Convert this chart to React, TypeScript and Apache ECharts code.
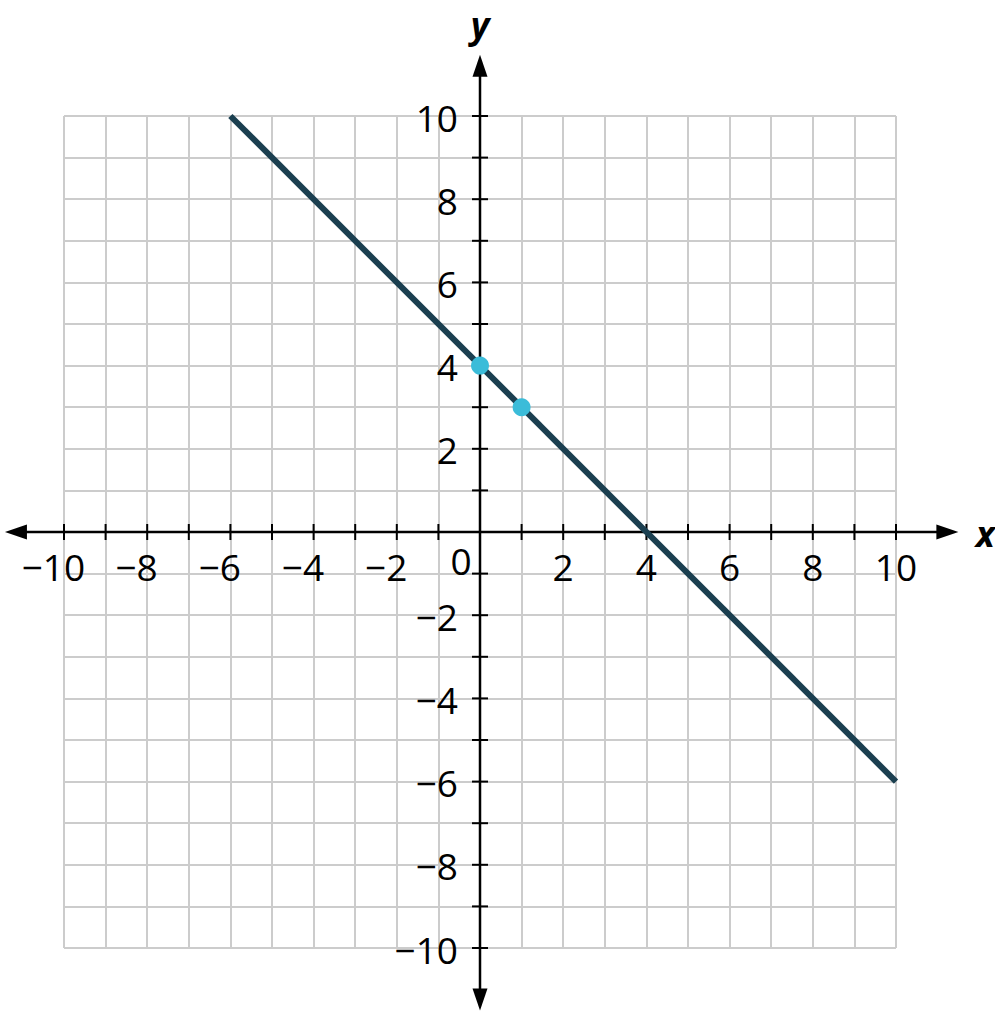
import { useEffect, useRef } from "react";
import * as echarts from "echarts";

// axis ranges and ticks
const xRange = [-10, 10];
const yRange = [-10, 10];
const tickStep = 1;
const labelStep = 2;
// how far the arrowed axes run past the grid (in units)
const xAxisExtent = [-11.42, 11.5];
const yAxisExtent = [-11.5, 11.47];

// the line y = -x + 4, drawn between its two ends
const linePoints = [
  [-6, 10],
  [10, -6],
];
// highlighted points on the line
const markedPoints = [
  [0, 4],
  [1, 3],
];

const FONT = "'Open Sans', 'DejaVu Sans', sans-serif";
const LABEL_SIZE = 37;

const fmt = (v: number) => (v < 0 ? "\u2212" + Math.abs(v) : String(v));

export default function App() {
  const chartRef = useRef<HTMLDivElement>(null);

  useEffect(() => {
    if (!chartRef.current) return;
    const chart = echarts.init(chartRef.current, null, { renderer: "svg" });

    const axesItem = (_params: any, api: any) => {
      const children: any[] = [];
      const axisStyle = { stroke: "#000", lineWidth: 2.5 };
      const [xl, xr] = xAxisExtent;
      const [yb, yt] = yAxisExtent;
      const pL = api.coord([xl, 0]);
      const pR = api.coord([xr, 0]);
      const pB = api.coord([0, yb]);
      const pT = api.coord([0, yt]);
      const o = api.coord([0, 0]);
      const al = 22;
      const aw = 7.5;
      const labelFont = `${LABEL_SIZE}px ${FONT}`;
      // half the width of a minus sign, so the digits sit centred on the tick
      const minusHalf = LABEL_SIZE * 0.572 * 0.5;
      // x axis
      children.push({
        type: "line",
        shape: { x1: pL[0] + al - 2, y1: pL[1], x2: pR[0] - al + 2, y2: pR[1] },
        style: axisStyle,
      });
      // y axis
      children.push({
        type: "line",
        shape: { x1: pT[0], y1: pT[1] + al - 2, x2: pB[0], y2: pB[1] - al + 2 },
        style: axisStyle,
      });
      // arrow heads
      children.push({
        type: "polygon",
        shape: { points: [[pR[0], pR[1]], [pR[0] - al, pR[1] - aw], [pR[0] - al, pR[1] + aw]] },
        style: { fill: "#000" },
      });
      children.push({
        type: "polygon",
        shape: { points: [[pL[0], pL[1]], [pL[0] + al, pL[1] - aw], [pL[0] + al, pL[1] + aw]] },
        style: { fill: "#000" },
      });
      children.push({
        type: "polygon",
        shape: { points: [[pT[0], pT[1]], [pT[0] - aw, pT[1] + al], [pT[0] + aw, pT[1] + al]] },
        style: { fill: "#000" },
      });
      children.push({
        type: "polygon",
        shape: { points: [[pB[0], pB[1]], [pB[0] - aw, pB[1] - al], [pB[0] + aw, pB[1] - al]] },
        style: { fill: "#000" },
      });
      // ticks and labels
      const tl = 8;
      for (let v = xRange[0]; v <= xRange[1]; v += tickStep) {
        if (v === 0) continue;
        const p = api.coord([v, 0]);
        children.push({
          type: "line",
          shape: { x1: p[0], y1: p[1] - tl, x2: p[0], y2: p[1] + tl },
          style: { stroke: "#000", lineWidth: 2 },
        });
        if (v % labelStep === 0) {
          children.push({
            type: "text",
            x: p[0] - (v < 0 ? minusHalf : 0),
            y: p[1] + 34,
            style: {
              text: fmt(v),
              font: labelFont,
              fill: "#000",
              align: "center",
              verticalAlign: "middle",
            },
          });
        }
      }
      for (let v = yRange[0]; v <= yRange[1]; v += tickStep) {
        if (v === 0) continue;
        const p = api.coord([0, v]);
        children.push({
          type: "line",
          shape: { x1: p[0] - tl, y1: p[1], x2: p[0] + tl, y2: p[1] },
          style: { stroke: "#000", lineWidth: 2 },
        });
        if (v % labelStep === 0) {
          children.push({
            type: "text",
            x: p[0] - 22,
            y: p[1] + 1,
            style: {
              text: fmt(v),
              font: labelFont,
              fill: "#000",
              align: "right",
              verticalAlign: "middle",
            },
          });
        }
      }
      // origin label and axis names
      children.push({
        type: "text",
        x: o[0] - 19,
        y: o[1] + 28,
        style: {
          text: "0",
          font: labelFont,
          fill: "#000",
          align: "center",
          verticalAlign: "middle",
        },
      });
      children.push({
        type: "text",
        x: pR[0] + 27,
        y: pR[1] + 1,
        style: {
          text: "x",
          font: `italic bold 36px ${FONT}`,
          fill: "#000",
          align: "center",
          verticalAlign: "middle",
        },
      });
      children.push({
        type: "text",
        x: pT[0],
        y: pT[1] - 30,
        style: {
          text: "y",
          font: `italic bold 36px ${FONT}`,
          fill: "#000",
          align: "center",
          verticalAlign: "middle",
        },
      });
      return { type: "group", children };
    };

    chart.setOption({
      animation: false,
      backgroundColor: "#fff",
      grid: {
        left: 64,
        top: 116,
        width: 832,
        height: 832,
        containLabel: false,
        outerBoundsMode: "none",
      },
      xAxis: {
        type: "value",
        min: xRange[0],
        max: xRange[1],
        interval: tickStep,
        axisLine: { show: false },
        axisTick: { show: false },
        axisLabel: { show: false },
        splitLine: { show: true, lineStyle: { color: "#cccccc", width: 2 } },
      },
      yAxis: {
        type: "value",
        min: yRange[0],
        max: yRange[1],
        interval: tickStep,
        axisLine: { show: false },
        axisTick: { show: false },
        axisLabel: { show: false },
        splitLine: { show: true, lineStyle: { color: "#cccccc", width: 2 } },
      },
      series: [
        {
          type: "custom",
          renderItem: axesItem,
          data: [[0, 0]],
          clip: false,
          silent: true,
          z: 3,
        },
        {
          type: "line",
          data: linePoints,
          showSymbol: false,
          lineStyle: { color: "#1b3f50", width: 6 },
          z: 4,
        },
        {
          type: "scatter",
          data: markedPoints,
          symbolSize: 18,
          itemStyle: { color: "#3bbcd9", opacity: 1 },
          z: 5,
        },
      ],
    });

    return () => {
      chart.dispose();
    };
  }, []);

  return (
    <div
      ref={chartRef}
      style={{ position: "fixed", left: 0, top: 0, width: 995, height: 1013 }}
    />
  );
}
